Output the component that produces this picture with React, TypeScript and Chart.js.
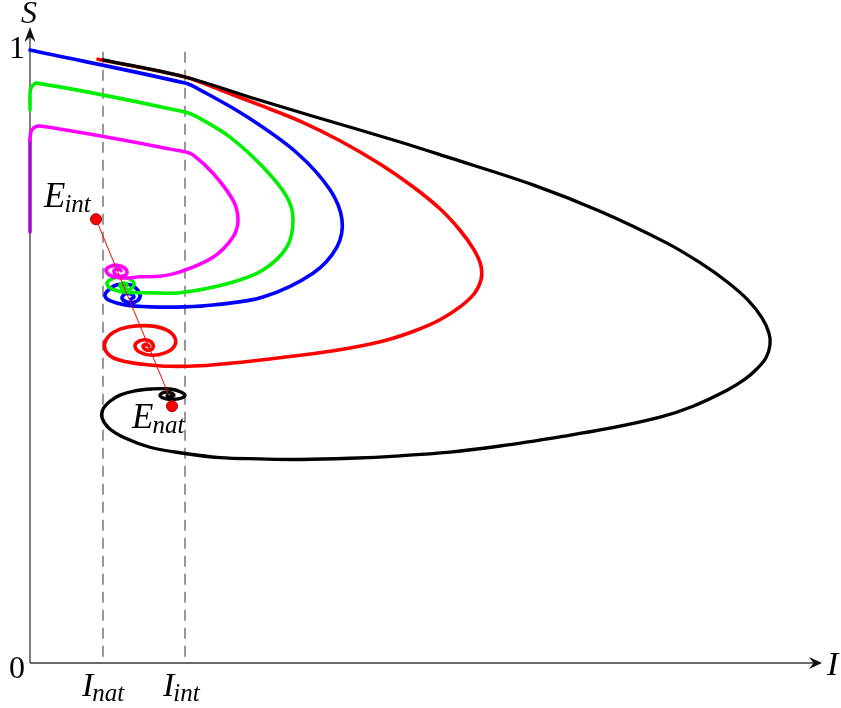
import { useEffect, useRef } from "react";
import { Chart, registerables } from "chart.js";

Chart.register(...registerables);

// ---- data (I on the horizontal axis, S on the vertical axis) ----
const I_NAT = 0.73;
const I_INT = 1.55;
const S_TICKS = [0, 1];
const DASH_TOP_S = 0.997;
const X_AXIS_END = 7.92;
const Y_AXIS_END = 1.0375;

const BLACK_I = [0.73, 1.55, 2.20, 2.83, 3.70, 4.20, 5.03, 5.70, 6.37, 6.70, 6.97, 7.18, 7.32, 7.39, 7.40, 7.36, 7.27, 7.15, 6.97, 6.63, 6.30, 5.80, 5.30, 4.70, 4.20, 3.70, 3.20, 2.70, 2.30, 1.90, 1.50, 1.20, 0.95, 0.79, 0.72, 0.73, 0.80, 0.90, 1.05, 1.22, 1.40, 1.51, 1.55, 1.48, 1.36, 1.30, 1.33, 1.40, 1.44, 1.40, 1.37];
const BLACK_S = [0.984, 0.956, 0.923, 0.892, 0.850, 0.824, 0.780, 0.737, 0.685, 0.653, 0.622, 0.592, 0.563, 0.538, 0.519, 0.498, 0.480, 0.463, 0.445, 0.419, 0.401, 0.383, 0.369, 0.354, 0.344, 0.338, 0.334, 0.332, 0.333, 0.335, 0.343, 0.352, 0.367, 0.383, 0.400, 0.414, 0.427, 0.437, 0.444, 0.447, 0.447, 0.442, 0.436, 0.431, 0.431, 0.436, 0.441, 0.441, 0.437, 0.435, 0.436];

const RED_I = [0.68, 1.55, 1.90, 2.30, 2.70, 3.10, 3.50, 3.83, 4.10, 4.30, 4.44, 4.51, 4.51, 4.44, 4.30, 4.10, 3.85, 3.57, 3.20, 2.80, 2.40, 2.00, 1.70, 1.40, 1.15, 0.95, 0.82, 0.75, 0.76, 0.84, 0.98, 1.20, 1.37, 1.45, 1.44, 1.35, 1.22, 1.10, 1.05, 1.09, 1.17, 1.23, 1.22, 1.16, 1.13, 1.16, 1.19];
const RED_S = [0.985, 0.956, 0.935, 0.910, 0.884, 0.852, 0.814, 0.777, 0.741, 0.706, 0.674, 0.648, 0.625, 0.602, 0.581, 0.560, 0.542, 0.527, 0.514, 0.504, 0.496, 0.489, 0.485, 0.484, 0.487, 0.492, 0.499, 0.512, 0.527, 0.540, 0.548, 0.550, 0.543, 0.530, 0.516, 0.506, 0.502, 0.507, 0.517, 0.525, 0.527, 0.520, 0.512, 0.511, 0.517, 0.520, 0.517];

const BLUE_I = [0.00, 1.55, 1.70, 2.17, 2.67, 3.00, 3.12, 3.07, 2.83, 2.33, 1.83, 1.55, 1.20, 0.95, 0.80, 0.75, 0.78, 0.87, 1.00, 1.08, 1.10, 1.05, 0.97, 0.92, 0.95, 1.01, 1.04, 1.01];
const BLUE_S = [1.000, 0.946, 0.935, 0.891, 0.832, 0.772, 0.723, 0.679, 0.636, 0.597, 0.584, 0.581, 0.581, 0.584, 0.591, 0.599, 0.608, 0.617, 0.617, 0.608, 0.597, 0.589, 0.589, 0.595, 0.602, 0.602, 0.597, 0.594];

const GREEN_I = [0.00, 0.00, 0.01, 0.07, 1.55, 1.67, 2.00, 2.33, 2.57, 2.63, 2.57, 2.33, 2.00, 1.50, 1.20, 0.95, 0.82, 0.77, 0.80, 0.90, 1.00, 1.04, 1.00, 0.93, 0.90, 0.94, 0.97, 0.95];
const GREEN_S = [0.902, 0.927, 0.938, 0.946, 0.899, 0.891, 0.858, 0.809, 0.760, 0.723, 0.679, 0.641, 0.620, 0.604, 0.604, 0.605, 0.610, 0.618, 0.625, 0.630, 0.626, 0.618, 0.610, 0.610, 0.617, 0.620, 0.617, 0.613];

const MAGENTA_I = [0.00, 0.00, 0.02, 0.10, 1.55, 1.63, 1.83, 2.03, 2.08, 2.03, 1.83, 1.50, 1.30, 1.10, 0.95, 0.82, 0.76, 0.79, 0.87, 0.95, 0.97, 0.92, 0.86, 0.84, 0.88, 0.91];
const MAGENTA_S = [0.703, 0.853, 0.870, 0.876, 0.834, 0.829, 0.799, 0.755, 0.723, 0.695, 0.662, 0.638, 0.631, 0.630, 0.628, 0.631, 0.640, 0.646, 0.649, 0.644, 0.636, 0.631, 0.633, 0.640, 0.643, 0.640];

const E_INT_I = 0.66;
const E_INT_S = 0.724;
const E_NAT_I = 1.42;
const E_NAT_S = 0.419;
const EQ_LINE_I = [0.66, 1.38];
const EQ_LINE_S = [0.724, 0.440];

const zip = (xs: number[], ys: number[]) => xs.map((x, i) => ({ x, y: ys[i] }));

const SERIF = '"Liberation Serif", "Times New Roman", serif';

function drawSub(ctx: CanvasRenderingContext2D, main: string, sub: string, x: number, y: number, mainSize: number, subSize: number) {
  ctx.font = `italic ${mainSize}px ${SERIF}`;
  ctx.textAlign = "left";
  ctx.textBaseline = "alphabetic";
  ctx.fillText(main, x, y);
  const w = ctx.measureText(main).width;
  ctx.font = `italic ${subSize}px ${SERIF}`;
  ctx.fillText(sub, x + w - 1, y + 5);
}

const axesPlugin = {
  id: "axesArrows",
  beforeDatasetsDraw(chart: any) {
    const { ctx } = chart;
    const xs = chart.scales.x;
    const ys = chart.scales.y;
    const x0 = xs.getPixelForValue(0);
    const y0 = ys.getPixelForValue(0);
    const xe = xs.getPixelForValue(X_AXIS_END);
    const ye = ys.getPixelForValue(Y_AXIS_END);
    ctx.save();
    ctx.strokeStyle = "#3a3a3a";
    ctx.lineWidth = 1.3;
    ctx.beginPath();
    ctx.moveTo(x0, y0);
    ctx.lineTo(xe - 6, y0);
    ctx.moveTo(x0, y0);
    ctx.lineTo(x0, ye + 6);
    ctx.stroke();
    ctx.fillStyle = "#111";
    ctx.beginPath();
    ctx.moveTo(xe, y0);
    ctx.lineTo(xe - 13, y0 - 6);
    ctx.lineTo(xe - 8.5, y0);
    ctx.lineTo(xe - 13, y0 + 6);
    ctx.closePath();
    ctx.fill();
    ctx.beginPath();
    ctx.moveTo(x0, ye);
    ctx.lineTo(x0 - 5.5, ye + 15);
    ctx.lineTo(x0, ye + 10);
    ctx.lineTo(x0 + 5.5, ye + 15);
    ctx.closePath();
    ctx.fill();
    ctx.restore();
  },
  afterDraw(chart: any) {
    const { ctx } = chart;
    const xs = chart.scales.x;
    const ys = chart.scales.y;
    const x0 = xs.getPixelForValue(0);
    const y0 = ys.getPixelForValue(0);
    const xe = xs.getPixelForValue(X_AXIS_END);
    const ye = ys.getPixelForValue(Y_AXIS_END);
    ctx.save();
    ctx.fillStyle = "#000";
    // axis names
    ctx.font = `italic 32px ${SERIF}`;
    ctx.textAlign = "left";
    ctx.textBaseline = "alphabetic";
    ctx.fillText("S", x0 - 9, ye - 4);
    ctx.font = `italic 34px ${SERIF}`;
    ctx.fillText("I", xe + 5, y0 + 12);
    // S ticks
    ctx.font = `32px ${SERIF}`;
    ctx.textAlign = "right";
    S_TICKS.forEach((s) => {
      const py = ys.getPixelForValue(s);
      ctx.fillText(String(s), x0 - 5, py + (s === 0 ? 15 : 8));
    });
    // I ticks
    const xn = xs.getPixelForValue(I_NAT);
    const xi = xs.getPixelForValue(I_INT);
    drawSub(ctx, "I", "nat", xn - 21, y0 + 33, 34, 25);
    drawSub(ctx, "I", "int", xi - 22, y0 + 33, 34, 25);
    // equilibrium labels
    const ex = xs.getPixelForValue(E_INT_I);
    const ey = ys.getPixelForValue(E_INT_S);
    drawSub(ctx, "E", "int", ex - 52, ey - 12, 35, 25);
    const nx = xs.getPixelForValue(E_NAT_I);
    const ny = ys.getPixelForValue(E_NAT_S);
    drawSub(ctx, "E", "nat", nx - 40, ny + 22, 35, 25);
    ctx.restore();
  },
};

export default function App() {
  const ref = useRef<HTMLCanvasElement | null>(null);
  useEffect(() => {
    document.body.style.margin = "0";
    const canvas = ref.current!;
    const curve = (data: any[], color: string, width: number, order: number, extra: any = {}) => ({
      data,
      borderColor: color,
      backgroundColor: color,
      borderWidth: width,
      pointRadius: 0,
      showLine: true,
      tension: 0.35,
      fill: false,
      clip: false,
      order,
      borderCapStyle: "round",
      borderJoinStyle: "round",
      ...extra,
    });
    const chart = new Chart(canvas, {
      type: "scatter",
      data: {
        datasets: [
          {
            data: [
              { x: E_INT_I, y: E_INT_S },
              { x: E_NAT_I, y: E_NAT_S },
            ],
            pointRadius: 5.5,
            pointBackgroundColor: "#ff0000",
            pointBorderColor: "#a00000",
            pointBorderWidth: 1,
            showLine: false,
            clip: false,
            order: 0,
          } as any,
          curve(zip(EQ_LINE_I, EQ_LINE_S), "#ff0000", 1, 1, { tension: 0 }),
          curve(zip(MAGENTA_I, MAGENTA_S), "#ff00ff", 3.6, 2, {
            segment: {
              borderColor: (c: any) =>
                c.p0.parsed.x === 0 && c.p1.parsed.x === 0 ? "#a010c8" : undefined,
            },
          }),
          curve(zip(GREEN_I, GREEN_S), "#00ee00", 3.6, 3),
          curve(zip(BLUE_I, BLUE_S), "#0000ff", 3.6, 4),
          curve(zip(BLACK_I, BLACK_S), "#000000", 3.3, 5),
          curve(zip(RED_I, RED_S), "#ff0000", 3.6, 6),
          curve(
            [
              { x: I_NAT, y: DASH_TOP_S },
              { x: I_NAT, y: 0 },
            ],
            "#555555",
            1.2,
            7,
            { tension: 0, borderDash: [11, 7], borderCapStyle: "butt" }
          ),
          curve(
            [
              { x: I_INT, y: DASH_TOP_S },
              { x: I_INT, y: 0 },
            ],
            "#555555",
            1.2,
            8,
            { tension: 0, borderDash: [11, 7], borderCapStyle: "butt" }
          ),
        ],
      },
      options: {
        responsive: false,
        animation: false,
        events: [],
        layout: { padding: { left: 30, right: 23, top: 32, bottom: 45 } },
        plugins: { legend: { display: false }, tooltip: { enabled: false } },
        scales: {
          x: { type: "linear", min: 0, max: 7.88, display: false },
          y: { type: "linear", min: 0, max: 1.0294, display: false },
        },
      },
      plugins: [axesPlugin],
    });
    return () => chart.destroy();
  }, []);
  return (
    <div style={{ width: 841, height: 708, background: "#fff" }}>
      <canvas ref={ref} width={841} height={708} style={{ display: "block", width: 841, height: 708 }} />
    </div>
  );
}
